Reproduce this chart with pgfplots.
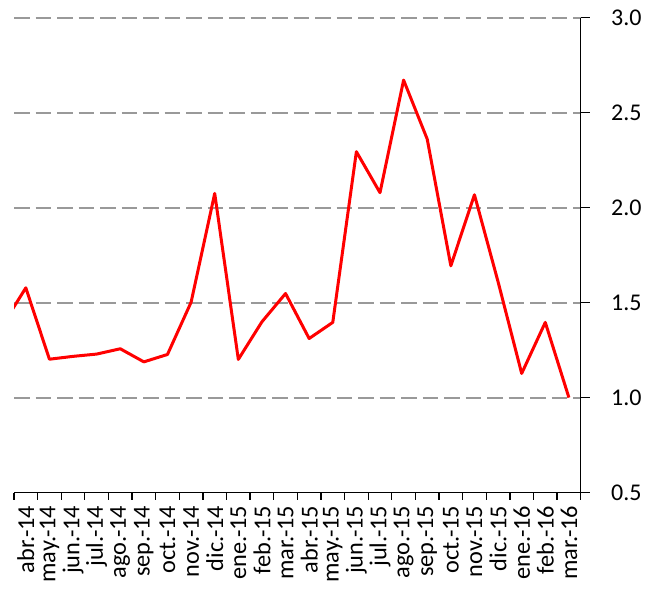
\documentclass[border=0pt]{standalone}
\usepackage{pgfplots}
\pgfplotsset{compat=1.18}
\usepackage{fontspec}
\setmainfont{Carlito}
\begin{document}
\begin{tikzpicture}[x=1pt,y=1pt]
\path[use as bounding box] (-14,-97.5) rectangle (638,492.5);
\begin{axis}[
  at={(0,0)}, anchor=south west,
  scale only axis, width=566.7pt, height=474.7pt,
  xmin=-0.5, xmax=23.5, ymin=0.5, ymax=3.0,
  axis x line=bottom, axis y line=right,
  axis line style={-, black, line width=1.3pt},
  xtick={0,...,23},
  xticklabels={abr.-14,may.-14,jun.-14,jul.-14,ago.-14,sep.-14,oct.-14,nov.-14,dic.-14,ene.-15,feb.-15,mar.-15,abr.-15,may.-15,jun.-15,jul.-15,ago.-15,sep.-15,oct.-15,nov.-15,dic.-15,ene.-16,feb.-16,mar.-16},
  minor xtick={-0.5,0.5,...,23.5},
  x tick label style={rotate=90, anchor=east, font=\fontsize{24.3}{26}\selectfont, inner sep=0pt, xshift=-4pt},
  xtick style={draw=none},
  minor x tick style={draw=black, line width=1.3pt},
  minor tick length=7pt,
  tick align=outside,
  ytick={0.5,1.0,...,3.0},
  ytick style={line width=1.3pt, black},
  major tick length=9pt,
  yticklabel shift=9pt,
  yticklabel={\hspace{9pt}\pgfmathprintnumber[fixed,fixed zerofill,precision=1]{\tick}},
  y tick label style={font=\fontsize{24}{26}\selectfont},
  /pgf/number format/assume math mode=true,
  ymajorgrids,
  grid style={draw=black!40, line width=1.9pt, dash pattern=on 15.5pt off 6pt},
  clip=true,
]
\addplot[red, line width=3pt, line join=round] coordinates {
(-1,1.378) (0,1.578) (1,1.202) (2,1.217) (3,1.229) (4,1.257) (5,1.188) (6,1.227) (7,1.502) (8,2.075) (9,1.201) (10,1.399) (11,1.548) (12,1.311) (13,1.396) (14,2.295) (15,2.079) (16,2.672) (17,2.361) (18,1.694) (19,2.068) (20,1.61) (21,1.127) (22,1.396) (23,1.0)
};
\end{axis}
\end{tikzpicture}
\end{document}
